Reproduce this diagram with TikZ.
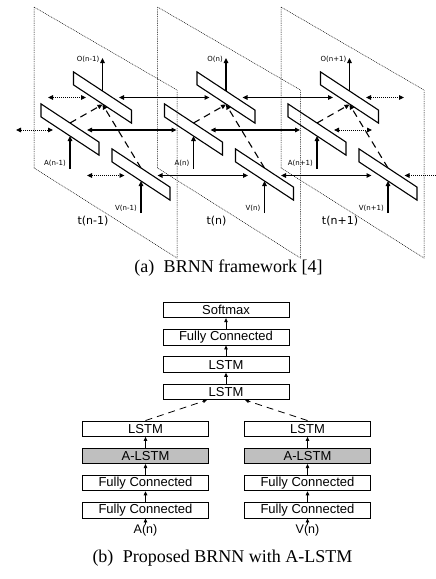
\documentclass[tikz,border=0pt]{standalone}
\usepackage{fontspec}
\setmainfont{Liberation Serif}
\setsansfont{Liberation Sans}
\newfontfamily\dejavu{DejaVu Sans}
\usetikzlibrary{arrows.meta,calc}
\newcommand\drawbar[2]{\draw[barline] (#1-29,#2-25.6) -- (#1+29,#2+12.6) -- (#1+29,#2+25.6) -- (#1-29,#2-12.6) -- cycle;}
\begin{document}
\begin{tikzpicture}[x=1pt,y=-1pt,
  planeline/.style={line width=0.5pt, dash pattern=on 0.9pt off 0.9pt},
  barline/.style={line width=1.1pt, line join=miter},
  arr/.style={line width=1.1pt, -{Triangle[length=5pt,width=4.5pt]}},
  darr/.style={line width=1.1pt, {Triangle[length=5pt,width=4.5pt]}-{Triangle[length=5pt,width=4.5pt]}},
  dotarr/.style={line width=0.9pt, dash pattern=on 1pt off 1pt, {Triangle[length=5pt,width=4.5pt]}-{Triangle[length=5pt,width=4.5pt]}},
  dotarrl/.style={line width=0.9pt, dash pattern=on 1pt off 1pt, {Triangle[length=5pt,width=4.5pt]}-},
  dasharr/.style={line width=1.1pt, dash pattern=on 7pt off 5pt, -{Triangle[length=5pt,width=4.5pt]}},
  small/.style={font=\dejavu\fontsize{7}{8}\selectfont, inner sep=0pt},
  tlab/.style={font=\dejavu\fontsize{11}{13}\selectfont, inner sep=0pt},
  box/.style={draw, line width=0.8pt, minimum width=126pt, minimum height=15.5pt, inner sep=0pt, font=\sffamily\fontsize{13}{15}\selectfont},
  gbox/.style={box, fill=black!25},
  sarr/.style={line width=0.8pt, -{Triangle[length=4pt,width=3.5pt]}},
  sdash/.style={line width=0.8pt, dash pattern=on 7pt off 5pt, -{Triangle[length=4pt,width=3.5pt]}},
  inlab/.style={font=\sffamily\fontsize{12.5}{14}\selectfont, inner sep=0pt},
  captext/.style={font=\fontsize{18}{21}\selectfont, inner sep=0pt}
]
\useasboundingbox (0,0) rectangle (436,579);
\begin{scope}
\clip (0,0) rectangle (436,579);
% ---------- (a) BRNN framework ----------
\foreach \i/\s in {0/n-1,1/n,2/n+1}{
  \pgfmathsetmacro\ox{123.5*\i}
  \pgfmathsetmacro\ux{102.5+\ox}
  \pgfmathsetmacro\ax{70+\ox}
  \pgfmathsetmacro\vx{141+\ox}
  \pgfmathsetmacro\pl{34+\ox}
  \pgfmathsetmacro\pr{177+\ox}
  \pgfmathsetmacro\tx{93+\ox}
  % plane
  \draw[planeline] (\pl,7) -- (\pr,90) -- (\pr,258) -- (\pl,168) -- cycle;
  % bars
  \drawbar{\ux}{97.5}
  \drawbar{\ax}{129.5}
  \drawbar{\vx}{174.5}
  % named points
  \coordinate (Ut\i) at (\ux,91);
  \coordinate (Ub\i) at (\ux,104.5);
  \coordinate (At\i) at (\ax,123);
  \coordinate (Ab\i) at (\ax,136);
  \coordinate (Vt\i) at (\vx,168);
  \coordinate (Vb\i) at (\vx,181);
  \coordinate (Otip\i) at (\ux,58);
  \coordinate (Ain\i) at (\ax,169);
  \coordinate (Vin\i) at (\vx,213);
  \coordinate (UL\i) at (\ux-16.5,97.5);
  \coordinate (UR\i) at (\ux+16.5,97.5);
  \coordinate (AL\i) at (\ax-17,130);
  \coordinate (AR\i) at (\ax+17,130);
  \coordinate (VL\i) at (\vx-16.5,175.5);
  \coordinate (VR\i) at (\vx+16.5,175.5);
  % vertical arrows
  \draw[arr] (Ut\i) -- (Otip\i);
  \draw[arr] (Ain\i) -- (Ab\i);
  \draw[arr] (Vin\i) -- (Vb\i);
  \draw[dasharr] (At\i) -- (Ub\i);
  \draw[dasharr] (Vt\i) -- (Ub\i);
  % labels
  \node[small, anchor=east] (O\i) at (\ux-3,59) {O(\s)};
  \node[small, anchor=east] (A\i) at (\ax-4,163) {A(\s)};
  \node[small, anchor=east] (V\i) at (\vx-4,208) {V(\s)};
  \node[tlab] (T\i) at (\tx,221) {t(\s)};
}
% horizontal connections between time steps
\foreach \i/\j in {0/1,1/2}{
  \draw[darr] (UR\i) -- (UL\j);
  \draw[darr] (AR\i) -- (AL\j);
  \draw[darr] (VR\i) -- (VL\j);
}
% open ends
\coordinate (UlL) at (48,97.5);
\coordinate (UrR) at (404,97.5);
\coordinate (AlL) at (16,130);
\coordinate (ArR) at (372,130);
\coordinate (VlL) at (87,175.5);
\coordinate (VrR) at (440,175.5);
\draw[dotarr] (UlL) -- (UL0);
\draw[dotarr] (UR2) -- (UrR);
\draw[dotarr] (AlL) -- (AL0);
\draw[dotarr] (AR2) -- (ArR);
\draw[dotarr] (VlL) -- (VL0);
\draw[dotarrl] (VR2) -- (VrR);
\end{scope}
\node[captext] (capa) at (228.5,268) {(a)\hspace{5pt} BRNN framework [4]};
% ---------- (b) Proposed BRNN with A-LSTM ----------
\node[box] (sm) at (226,310) {Softmax};
\node[box] (fc) at (226,337.3) {Fully Connected};
\node[box] (l2) at (226,364.6) {LSTM};
\node[box] (l1) at (226,391.9) {LSTM};
\foreach \c/\x/\lab in {a/145.5/A(n), v/307.5/V(n)}{
  \node[box] (\c l) at (\x,428.7) {LSTM};
  \node[gbox] (\c g) at (\x,455.9) {A-LSTM};
  \node[box] (\c f2) at (\x,483.1) {Fully Connected};
  \node[box] (\c f1) at (\x,510.3) {Fully Connected};
  \node[inlab] (\c in) at (\x,530.5) {\lab};
  \draw[sarr] (\c in.north) -- (\c f1.south);
  \draw[sarr] (\c f1.north) -- (\c f2.south);
  \draw[sarr] (\c f2.north) -- (\c g.south);
  \draw[sarr] (\c g.north) -- (\c l.south);
}
\draw[sarr] (l1.north) -- (l2.south);
\draw[sarr] (l2.north) -- (fc.south);
\draw[sarr] (fc.north) -- (sm.south);
\draw[sdash] (al.north) -- ($(l1.south)+(-19,0)$);
\draw[sdash] (vl.north) -- ($(l1.south)+(19,0)$);
\node[captext] (capb) at (222.5,558) {(b)\hspace{5pt} Proposed BRNN with A-LSTM};
\end{tikzpicture}
\end{document}
